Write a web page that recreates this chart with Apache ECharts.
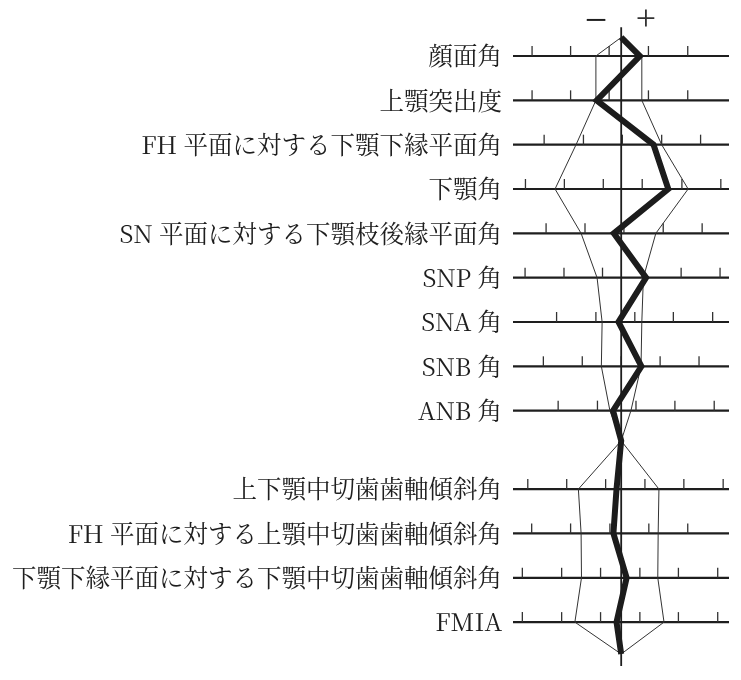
<!DOCTYPE html>
<html>
<head>
<meta charset="utf-8">
<script src="https://cdn.jsdelivr.net/npm/echarts@6/dist/echarts.min.js"></script>
<style>
	html, body { margin: 0; padding: 0; background: #fff; }
	#polygonogram { width: 741px; height: 680px; }
</style>
</head>
<body>
<div id="polygonogram"></div>
<script>
// measurement names, top to bottom (skeletal group then dental group)
const rowLabels = [
	'顔面角',
	'上顎突出度',
	'FH 平面に対する下顎下縁平面角',
	'下顎角',
	'SN 平面に対する下顎枝後縁平面角',
	'SNP 角',
	'SNA 角',
	'SNB 角',
	'ANB 角',
	'上下顎中切歯歯軸傾斜角',
	'FH 平面に対する上顎中切歯歯軸傾斜角',
	'下顎下縁平面に対する下顎中切歯歯軸傾斜角',
	'FMIA'
];
const groupSizes = [9, 4];

// all values in scale steps from the mean (0 = centre line)
const normLow = [-0.65, -0.65, -1.16, -1.70, -1.03, -0.62, -0.49, -0.51, -0.29, -1.10, -1.03, -1.02, -1.19];
const normHigh = [0.53, 0.53, 1.04, 1.72, 0.89, 0.57, 0.53, 0.51, 0.25, 0.97, 0.95, 0.94, 1.10];
const patient = [0.48, -0.63, 0.83, 1.21, -0.19, 0.64, -0.07, 0.52, -0.21, -0.12, -0.20, 0.14, -0.12];

// scale graduations of each row
const scaleTicks = [
	[-2.29, -1.30, -0.31, 0.70, 1.71],
	[-2.29, -1.30, -0.31, 0.70, 1.71],
	[-1.98, -0.97, 0.03, 1.04, 2.04],
	[-2.46, -1.46, -0.46, 0.54, 1.56, 2.56],
	[-1.93, -0.93, 0.07, 1.08, 2.08],
	[-2.47, -1.47, -0.48, 0.53, 1.54, 2.54],
	[-1.66, -0.65, 0.35, 1.34, 2.35],
	[-2.00, -1.00, 0.00, 1.00, 2.00],
	[-1.62, -0.61, 0.38, 1.38, 2.39],
	[-2.40, -1.40, -0.40, 0.61, 1.61, 2.62],
	[-2.30, -1.30, -0.29, 0.71, 1.71],
	[-2.54, -1.53, -0.53, 0.48, 1.47, 2.48],
	[-2.54, -1.53, -0.53, 0.48, 1.47, 2.48]
];

// layout (row units / scale steps)
const X_MIN = -2.78;
const X_MAX = 2.77;
const Y_MIN = -0.65;
const Y_MAX = 13.76;
const GROUP_GAP = 0.77;
const CAP_TOP = 0.42;
const CAP_MID = 0.68;
const CAP_BOTTOM = 0.72;

const LABEL_FONT = '"Noto Serif CJK JP", "Liberation Serif", "Noto Sans CJK JP", serif';

function rowSlot(i) {
	return i < groupSizes[0] ? i : i + GROUP_GAP;
}

// polygon path: closes on the centre line above, between and below the groups
function buildPath(values) {
	const pts = [[0, -CAP_TOP]];
	values.forEach((v, i) => {
		if (i === groupSizes[0]) {
			pts.push([0, rowSlot(i - 1) + CAP_MID]);
		}
		pts.push([v, rowSlot(i)]);
	});
	pts.push([0, rowSlot(values.length - 1) + CAP_BOTTOM]);
	return pts;
}

function renderRow(params, api) {
	const i = params.dataIndex;
	const y = api.value(1);
	const left = api.coord([X_MIN, y]);
	const right = api.coord([X_MAX, y]);
	const children = [
		{
			type: 'line',
			shape: { x1: left[0], y1: left[1], x2: right[0], y2: right[1] },
			style: { stroke: '#1e1e1e', lineWidth: 2.2 }
		},
		{
			type: 'text',
			x: left[0] - 11,
			y: left[1],
			style: {
				text: rowLabels[i],
				fill: '#1e1e1e',
				fontSize: 24.5,
				fontFamily: LABEL_FONT,
				align: 'right',
				verticalAlign: 'middle'
			}
		}
	];
	scaleTicks[i].forEach((t) => {
		const p = api.coord([t, y]);
		children.push({
			type: 'line',
			shape: { x1: p[0], y1: p[1], x2: p[0], y2: p[1] - 10 },
			style: { stroke: '#333', lineWidth: 1.3 }
		});
	});
	return { type: 'group', children: children };
}

const chart = echarts.init(document.getElementById('polygonogram'), null, { renderer: 'canvas' });

chart.setOption({
	animation: false,
	backgroundColor: '#fff',
	grid: { left: 513, top: 27.2, width: 216, height: 638.8 },
	xAxis: { type: 'value', min: X_MIN, max: X_MAX, show: false },
	yAxis: { type: 'value', inverse: true, min: Y_MIN, max: Y_MAX, show: false },
	graphic: [
		{
			type: 'text',
			x: 596,
			y: 22,
			style: { text: '−', fill: '#1e1e1e', fontSize: 40, fontFamily: '"Liberation Serif", serif', align: 'center', verticalAlign: 'middle' }
		},
		{
			type: 'text',
			x: 646,
			y: 21,
			style: { text: '+', fill: '#333', fontSize: 36, fontFamily: '"Liberation Serif", serif', align: 'center', verticalAlign: 'middle' }
		}
	],
	series: [
		{
			type: 'custom',
			renderItem: renderRow,
			data: rowLabels.map((name, i) => ({ name: name, value: [0, rowSlot(i)] })),
			z: 1
		},
		{
			type: 'line',
			data: [[0, Y_MIN], [0, Y_MAX]],
			symbol: 'none',
			lineStyle: { color: '#1e1e1e', width: 1.8 },
			z: 2
		},
		{
			type: 'line',
			data: buildPath(normLow),
			symbol: 'none',
			lineStyle: { color: '#333', width: 1 },
			z: 3
		},
		{
			type: 'line',
			data: buildPath(normHigh),
			symbol: 'none',
			lineStyle: { color: '#333', width: 1 },
			z: 3
		},
		{
			type: 'line',
			data: buildPath(patient),
			symbol: 'none',
			lineStyle: { color: '#1c1c1c', width: 6, join: 'miter', miterLimit: 8 },
			z: 4
		}
	]
});
</script>
</body>
</html>
